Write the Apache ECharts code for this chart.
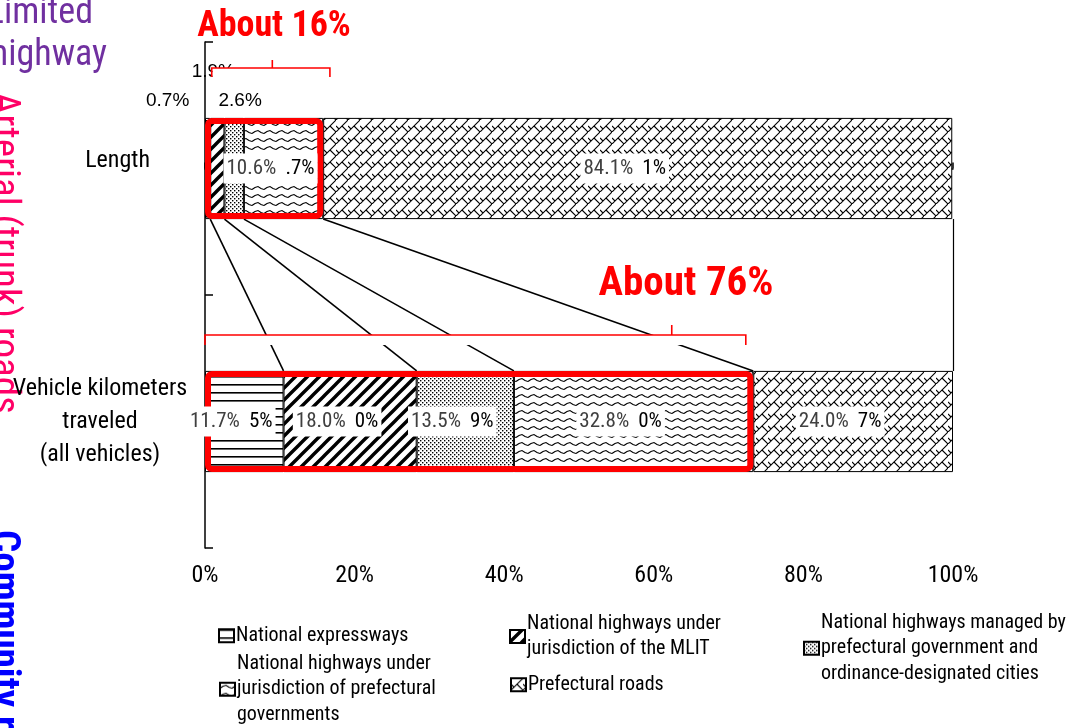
<!DOCTYPE html>
<html>
<head>
<meta charset="utf-8">
<script src="https://cdn.jsdelivr.net/npm/echarts@6/dist/echarts.min.js"></script>
<style>
  html, body { margin: 0; padding: 0; background: #fff; }
  #chart { width: 1080px; height: 728px; }
</style>
</head>
<body>
<div id="chart"></div>
<script>
// categories (top to bottom)
const categories = ['Length', 'Vehicle kilometers\ntraveled\n(all vehicles)']
const roadTypes = [
  'National expressways',
  'National highways under jurisdiction of the MLIT',
  'National highways managed by prefectural government and ordinance-designated cities',
  'National highways under jurisdiction of prefectural governments',
  'Prefectural roads',
]
// shares in % as drawn
const lengthShare = [0.7, 1.9, 2.6, 10.6, 84.1]
const vktShare = [10.5, 17.8, 13.0, 32.0, 26.7]
// printed labels (the chart shows older labels peeking out behind them)
const lengthLabels = ['0.7%', '1.9%', '2.6%', '10.6%', '84.1%']
const lengthTails = ['', '', '', '.7%', '1%']
const vktLabels = ['11.7%', '18.0%', '13.5%', '32.8%', '24.0%']
const vktTails = ['5%', '0%', '9%', '0%', '7%']
// annotation brackets: [left, middle, right] in %, levels in category units
const bracket16X = [0.9, 9.0, 16.7]
const bracket16Y = [-0.362, -0.397, -0.429]
const bracket76X = [0, 62.4, 72.3]
const bracket76Y = [0.698, 0.658, 0.619]
const annotations = ['About 16%', 'About 76%']
// legend text as wrapped on the slide
const legendText = [
  'National expressways',
  'National highways under\njurisdiction of the MLIT',
  'National highways managed by\nprefectural government and\nordinance-designated cities',
  'National highways under\njurisdiction of prefectural\ngovernments',
  'Prefectural roads',
]

const FONT = "'Liberation Sans Narrow', 'Arial Narrow', 'Roboto Condensed', 'DejaVu Sans Condensed', sans-serif"
const PLAIN = "'Liberation Sans', Arial, sans-serif"

function pattern(w, h, draw) {
  const c = document.createElement('canvas')
  c.width = w
  c.height = h
  const ctx = c.getContext('2d')
  ctx.fillStyle = '#fff'
  ctx.fillRect(0, 0, w, h)
  ctx.strokeStyle = '#000'
  ctx.fillStyle = '#000'
  draw(ctx)
  return { image: c, repeat: 'repeat' }
}

const fills = [
  // horizontal lines
  pattern(8, 8, (ctx) => { ctx.fillRect(0, 0, 8, 1.6) }),
  // heavy diagonal
  pattern(12, 12, (ctx) => {
    ctx.lineWidth = 3.4
    ctx.beginPath()
    ctx.moveTo(-2, 14); ctx.lineTo(14, -2)
    ctx.moveTo(-8, 8); ctx.lineTo(8, -8)
    ctx.moveTo(4, 20); ctx.lineTo(20, 4)
    ctx.stroke()
  }),
  // dots
  pattern(4, 4, (ctx) => { ctx.fillRect(0, 0, 1.4, 1.4); ctx.fillRect(2, 2, 1.4, 1.4) }),
  // waves
  pattern(12, 8, (ctx) => {
    ctx.lineWidth = 1.1
    ctx.beginPath()
    ctx.moveTo(0, 5.5)
    ctx.lineTo(3, 3.5); ctx.lineTo(6, 2.5); ctx.lineTo(9, 4.5); ctx.lineTo(12, 5.5)
    ctx.stroke()
  }),
  // brick cross hatch
  pattern(12, 12, (ctx) => {
    ctx.lineWidth = 1.1
    ctx.beginPath()
    ctx.moveTo(0, 12); ctx.lineTo(12, 0)
    ctx.moveTo(6, 6); ctx.lineTo(12, 12)
    ctx.moveTo(0, 6); ctx.lineTo(3, 9)
    ctx.stroke()
  }),
]

const sum4 = (a) => a.slice(0, 4).reduce((s, v) => s + v, 0)
const cumulative = (a) => a.slice(0, 4).map((_, i) => a.slice(0, i + 1).reduce((s, v) => s + v, 0))

const smallLabelOffsets = [[-40, -3], [-4, -32], [6, -3]]

function mainLabel(text, tail) {
  return {
    show: true,
    position: 'inside',
    offset: [-13, 0],
    formatter: tail ? `{v|${text}}{t|${tail}}` : `{v|${text}}`,
    backgroundColor: '#fff',
    padding: [5, 3, 4, 3],
    rich: {
      v: { color: '#404040', fontSize: 21, fontFamily: FONT },
      t: { color: '#000', fontSize: 21, fontFamily: FONT, padding: [0, 0, 0, 9] },
    },
  }
}

const barSeries = roadTypes.map((name, i) => ({
  name,
  type: 'bar',
  stack: 'share',
  barWidth: '40%',
  barGap: '-100%',
  z: 2,
  itemStyle: { color: fills[i], borderColor: '#000', borderWidth: 1 },
  data: [lengthShare[i], vktShare[i]],
}))

const labelSeries = roadTypes.map((name, i) => ({
  name: 'label-' + i,
  type: 'bar',
  stack: 'labels',
  barWidth: '40%',
  barGap: '-100%',
  z: 6,
  silent: true,
  itemStyle: { color: 'rgba(0,0,0,0)', borderWidth: 0 },
  data: [
    {
      value: lengthShare[i],
      label: i < 3
        ? { show: true, position: 'top', offset: smallLabelOffsets[i], formatter: lengthLabels[i], color: '#000', fontSize: 19, fontFamily: PLAIN }
        : mainLabel(lengthLabels[i], lengthTails[i]),
    },
    { value: vktShare[i], label: mainLabel(vktLabels[i], vktTails[i]) },
  ],
}))

const topLinks = cumulative(lengthShare)
const bottomLinks = cumulative(vktShare)

function bracket(xs, ys) {
  return [
    [xs[0], ys[0]], [xs[0], ys[1]], [xs[1], ys[1]], [xs[1], ys[2]],
    [xs[1], ys[1]], [xs[2], ys[1]], [xs[2], ys[0]],
  ]
}

// white strip under each bracket, as on the slide where the bracket hides what is behind it
function strip(xs, ys) {
  const mid = (ys[0] + ys[1]) / 2
  return { coords: [[Math.max(xs[0], 1), mid], [xs[2], mid]] }
}

const chart = echarts.init(document.getElementById('chart'))

chart.setOption({
  animation: false,
  textStyle: { fontFamily: FONT },
  grid: { left: 205, right: 127, top: 42, bottom: 180 },
  xAxis: {
    type: 'value',
    min: 0,
    max: 100,
    interval: 20,
    axisLine: { show: true, lineStyle: { color: '#000', width: 1.5 } },
    axisTick: { show: true, inside: true, length: 6, lineStyle: { color: '#000', width: 1.5 } },
    axisLabel: { formatter: '{value}%', color: '#000', fontSize: 24, margin: 16, fontFamily: FONT },
    splitLine: { show: false },
  },
  yAxis: [
    {
      type: 'category',
      inverse: true,
      data: categories,
      axisLine: { show: true, lineStyle: { color: '#000', width: 1.5 } },
      axisTick: { show: true, inside: true, length: 8, lineStyle: { color: '#000', width: 1.5 } },
      axisLabel: {
        margin: 15,
        color: '#000',
        fontFamily: FONT,
        formatter: (v) => v === 'Length'
          ? `{len|${v}}`
          : v.split('\n').map((s) => `{vkt|${s}}`).join('\n'),
        rich: {
          len: { fontSize: 24, fontFamily: FONT, color: '#000', padding: [0, 40, 16, 0] },
          vkt: { fontSize: 24, fontFamily: FONT, color: '#000', width: 180, align: 'center', lineHeight: 33 },
        },
      },
    },
    { type: 'value', min: -0.5, max: 1.5, inverse: true, show: false },
  ],
  legend: legendText.map((t, i) => ({
    data: [roadTypes[i]],
    left: [218, 509, 803, 219, 510][i],
    top: [623, 611, 610, 651, 672][i],
    padding: 0,
    itemWidth: 15,
    itemHeight: 13,
    itemGap: 0,
    selectedMode: false,
    icon: 'rect',
    formatter: () => t,
    textStyle: { fontSize: 20, lineHeight: 25.5, color: '#000', fontFamily: FONT, padding: [0, 0, 0, -3] },
  })),
  series: [
    ...barSeries,
    {
      name: 'box',
      type: 'bar',
      barWidth: '40%',
      barGap: '-100%',
      z: 4,
      silent: true,
      itemStyle: { color: 'rgba(0,0,0,0)', borderColor: '#ff0000', borderWidth: 6, borderRadius: 4 },
      data: [sum4(lengthShare), sum4(vktShare)],
    },
    ...labelSeries,
    {
      name: 'links',
      type: 'lines',
      coordinateSystem: 'cartesian2d',
      xAxisIndex: 0,
      yAxisIndex: 1,
      z: 3,
      silent: true,
      lineStyle: { color: '#000', width: 1.6, opacity: 1 },
      data: topLinks.map((x, i) => ({ coords: [[x, 0.2], [bottomLinks[i], 0.8]] }))
        .concat([{ coords: [[100, 0.2], [100, 0.8]], lineStyle: { width: 1.2 } }]),
    },
    {
      name: 'bracket-strips',
      type: 'lines',
      coordinateSystem: 'cartesian2d',
      xAxisIndex: 0,
      yAxisIndex: 1,
      z: 7,
      silent: true,
      lineStyle: { color: '#fff', width: 10, opacity: 1 },
      data: [strip(bracket16X, bracket16Y), strip(bracket76X, bracket76Y)],
    },
    {
      name: 'brackets',
      type: 'lines',
      coordinateSystem: 'cartesian2d',
      xAxisIndex: 0,
      yAxisIndex: 1,
      polyline: true,
      z: 8,
      silent: true,
      lineStyle: { color: '#ff0000', width: 1.6, opacity: 1 },
      data: [{ coords: bracket(bracket16X, bracket16Y) }, { coords: bracket(bracket76X, bracket76Y) }],
    },
  ],
  graphic: [
    { type: 'text', x: 274, y: 27, z: 10, style: { text: annotations[0], fill: '#ff0000', font: `bold 36px ${FONT}`, textAlign: 'center', textVerticalAlign: 'middle' } },
    { type: 'text', x: 686, y: 285, z: 10, style: { text: annotations[1], fill: '#ff0000', font: `bold 41px ${FONT}`, textAlign: 'center', textVerticalAlign: 'middle' } },
    { type: 'text', x: 93, y: 14, style: { text: 'Limited', fill: '#7030a0', font: `36px ${FONT}`, textAlign: 'right', textVerticalAlign: 'middle' } },
    { type: 'text', x: 107, y: 56, style: { text: 'highway', fill: '#7030a0', font: `36px ${FONT}`, textAlign: 'right', textVerticalAlign: 'middle' } },
    { type: 'text', x: -17, y: 92, rotation: -Math.PI / 2, style: { text: 'Arterial (trunk) roads', fill: '#ff0066', font: `39px ${FONT}`, textAlign: 'left', textVerticalAlign: 'bottom' } },
    { type: 'text', x: -17, y: 530, rotation: -Math.PI / 2, style: { text: 'Community roads', fill: '#0000ff', font: `bold 39px ${FONT}`, textAlign: 'left', textVerticalAlign: 'bottom' } },
  ],
})
</script>
</body>
</html>
